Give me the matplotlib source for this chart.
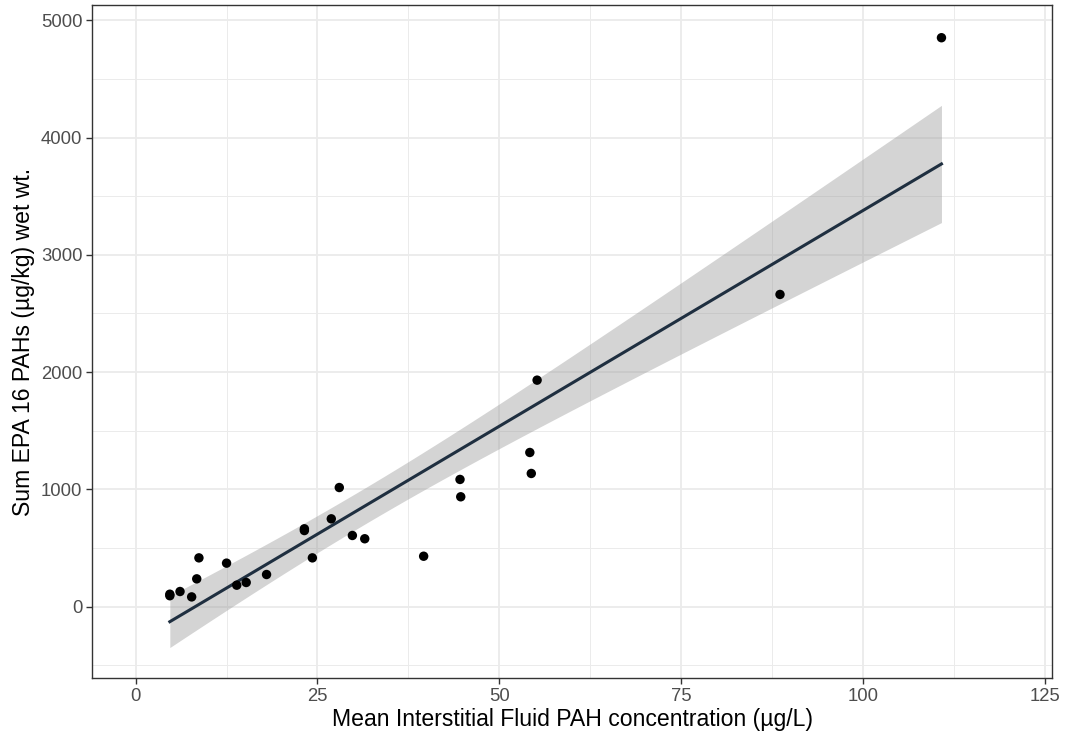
import numpy as np
import matplotlib
matplotlib.use("Agg")
import matplotlib.pyplot as plt
from matplotlib.ticker import MultipleLocator

plt.rcParams['font.family'] = ['Liberation Sans', 'DejaVu Sans']

# interstitial fluid concentration (ug/L) and sum of 16 EPA PAHs (ug/kg wet wt.)
conc = [4.7, 4.7, 6.1, 7.7, 8.4, 8.7, 12.5, 13.9, 15.2, 18.0,
        23.2, 23.2, 24.3, 26.9, 28.0, 29.8, 31.5, 39.6, 44.6, 44.7,
        54.2, 54.4, 55.2, 88.6, 110.8]
pah = [105, 92, 128, 82, 236, 415, 370, 182, 205, 273,
       663, 648, 415, 748, 1015, 606, 578, 429, 1084, 936,
       1314, 1135, 1931, 2662, 4852]

x_ticks = [0, 25, 50, 75, 100, 125]
y_ticks = [0, 1000, 2000, 3000, 4000, 5000]

x = np.array(conc)
y = np.array(pah)

# linear fit + 95% confidence band, like geom_smooth(method="lm")
n = len(x)
slope, intercept = np.polyfit(x, y, 1)
resid = y - (slope * x + intercept)
s = np.sqrt(np.sum(resid ** 2) / (n - 2))
t = 2.069  # t(0.975, df=23)
xs = np.linspace(x.min(), x.max(), 80)
ys = slope * xs + intercept
se = s * np.sqrt(1 / n + (xs - x.mean()) ** 2 / np.sum((x - x.mean()) ** 2))

fig = plt.figure(figsize=(10.65, 7.33), dpi=100)
ax = fig.add_axes([0.0864, 0.075, 0.9014, 0.918])

ax.fill_between(xs, ys - t * se, ys + t * se, color='#999999', alpha=0.42,
                linewidth=0, zorder=2)
ax.plot(xs, ys, color='#1f2f40', linewidth=2.2, zorder=3)
ax.scatter(x, y, s=46, color='black', edgecolors='none', zorder=4)

ax.set_xlim(-6, 126)
ax.set_ylim(-610, 5130)
ax.set_xticks(x_ticks)
ax.set_yticks(y_ticks)
ax.xaxis.set_minor_locator(MultipleLocator(12.5))
ax.yaxis.set_minor_locator(MultipleLocator(500))

ax.grid(which='major', color='#ebebeb', linewidth=1.3, zorder=0)
ax.grid(which='minor', color='#ebebeb', linewidth=0.7, zorder=0)
ax.set_axisbelow(True)

for sp in ax.spines.values():
    sp.set_color('#333333')
    sp.set_linewidth(1.0)

ax.tick_params(which='major', length=4, width=1, color='#333333',
               labelcolor='#4d4d4d', labelsize=13.3, pad=3)
ax.tick_params(which='minor', length=0)

ax.set_xlabel('Mean Interstitial Fluid PAH concentration (µg/L)',
              fontsize=16.6, color='black', labelpad=2)
ax.set_ylabel('Sum EPA 16 PAHs (µg/kg) wet wt.', fontsize=16.6,
              color='black', labelpad=4)

fig.savefig('out.png', dpi=100)
